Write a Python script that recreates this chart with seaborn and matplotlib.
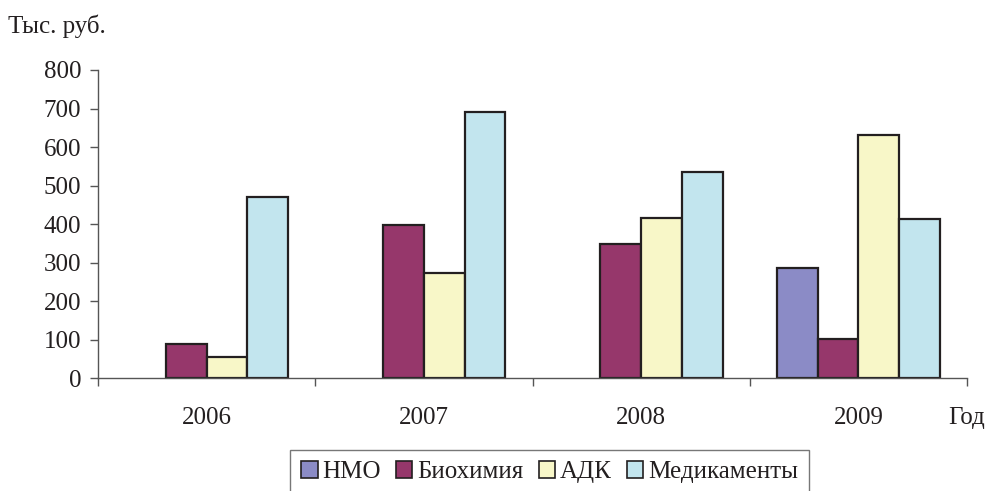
import matplotlib
matplotlib.use("Agg")
import matplotlib.pyplot as plt
import seaborn as sns
import pandas as pd
from matplotlib.patches import Patch
from matplotlib.ticker import FixedLocator

years = ["2006", "2007", "2008", "2009"]
series = ["НМО", "Биохимия", "АДК", "Медикаменты"]
nmo = [0, 0, 0, 287]
biochem = [88, 398, 349, 102]
adk = [56, 273, 417, 632]
meds = [470, 692, 536, 413]
colors = ["#8B8BC6", "#96376B", "#F8F7C8", "#C2E5EE"]
y_ticks = [0, 100, 200, 300, 400, 500, 600, 700, 800]

rows = []
for name, vals in zip(series, [nmo, biochem, adk, meds]):
    for yr, v in zip(years, vals):
        rows.append({"Год": yr, "Серия": name, "Значение": v})
df = pd.DataFrame(rows)

sns.set_theme(style="white")
plt.rcParams["font.family"] = ["Liberation Serif", "DejaVu Serif"]
plt.rcParams["text.color"] = "#231F20"
FS = 18

fig = plt.figure(figsize=(9.99, 4.91), dpi=100)
ax = fig.add_axes([98 / 999, 1 - 378.3 / 491, (967 - 98) / 999, (378.3 - 70) / 491])

sns.barplot(data=df, x="Год", y="Значение", hue="Серия", order=years,
            hue_order=series, palette=colors, width=0.75, saturation=1,
            edgecolor="#231F20", linewidth=1.6, errorbar=None, legend=False, ax=ax)

for p in ax.patches:
    if p.get_height() == 0:
        p.set_linewidth(0)

ax.set_ylim(0, 800)
ax.set_xlim(-0.5, 3.5)
ax.set_yticks(y_ticks)
ax.set_xlabel("")
ax.set_ylabel("")
for s in ["top", "right"]:
    ax.spines[s].set_visible(False)
for s in ["left", "bottom"]:
    ax.spines[s].set_color("#555555")
    ax.spines[s].set_linewidth(1.0)

ax.tick_params(axis="y", direction="out", length=6, width=1, color="#555555",
               labelsize=FS, pad=6, left=True, labelcolor="#231F20")
ax.tick_params(axis="x", which="major", length=0, labelsize=FS, pad=21,
               labelcolor="#231F20")
ax.xaxis.set_minor_locator(FixedLocator([-0.5, 0.5, 1.5, 2.5, 3.5]))
ax.tick_params(axis="x", which="minor", direction="out", length=6, width=1,
               color="#555555", bottom=True)

fig.text(8 / 999, 1 - 33 / 491, "Тыс. руб.", fontsize=FS, va="baseline", ha="left")
fig.text(948 / 999, 1 - 424 / 491, "Год", fontsize=FS, va="baseline", ha="left")

handles = [Patch(facecolor=c, edgecolor="#231F20", linewidth=1.2, label=n)
           for c, n in zip(colors, series)]
leg = fig.legend(handles=handles, loc="upper left",
                 bbox_to_anchor=(290 / 999, 1 - 450 / 491), ncol=4,
                 fontsize=FS, frameon=True, fancybox=False,
                 handlelength=0.65, handleheight=0.65, handletextpad=0.2,
                 columnspacing=0.6, borderpad=0.45, borderaxespad=0)
leg.get_frame().set_edgecolor("#555555")
leg.get_frame().set_linewidth(1.0)

fig.savefig("out.png", dpi=100)
